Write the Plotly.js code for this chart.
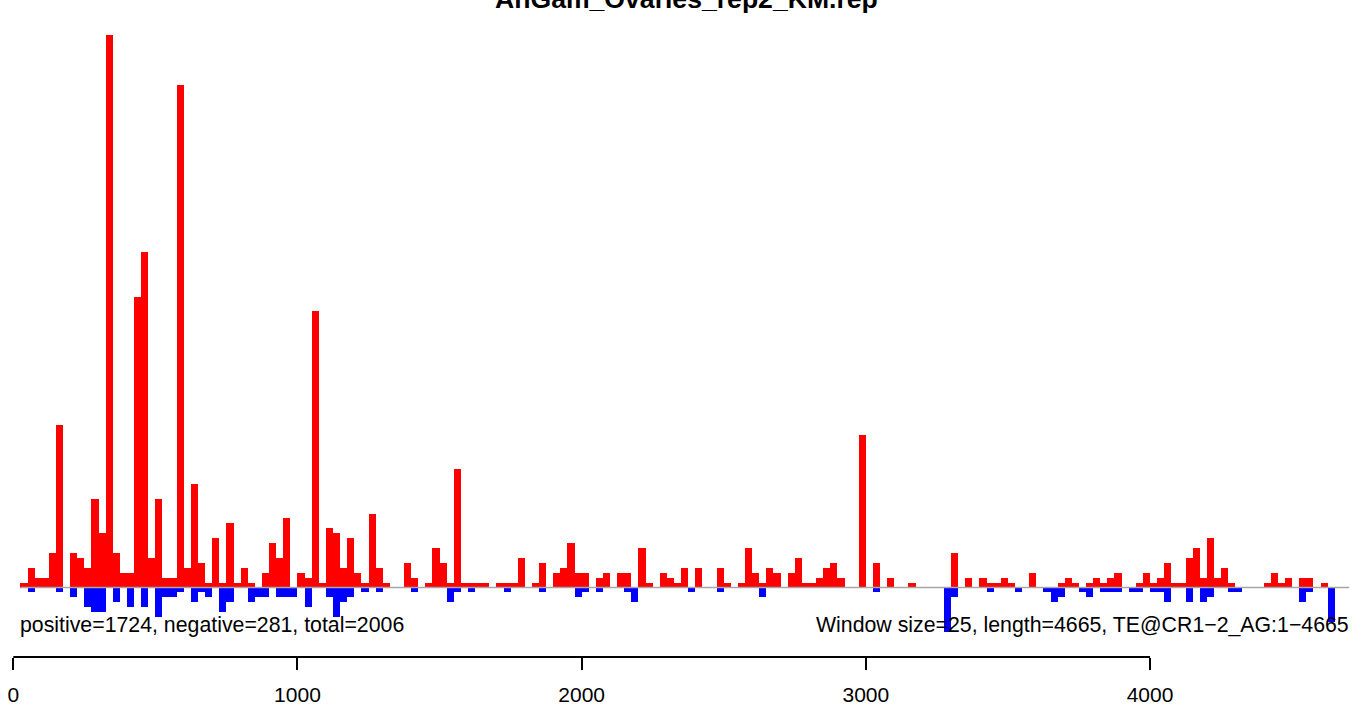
<!DOCTYPE html>
<html>
<head>
<meta charset="utf-8">
<script src="https://cdn.plot.ly/plotly-3.0.1.min.js"></script>
<style>
html,body{margin:0;padding:0;background:#ffffff;overflow:hidden}
#chart{width:1366px;height:707px}
</style>
</head>
<body>
<div id="chart"></div>
<script>
// ---------------- data ----------------
const titleText = "AnGam_Ovaries_rep2_KM.rep";
const windowSize = 25;
const seqLength = 4665;
const teName = "TE@CR1\u22122_AG";
const positiveTotal = 1724;
const negativeTotal = 281;
const grandTotal = 2006;
const tickValues = [0, 1000, 2000, 3000, 4000];
const tickLabels = ["0", "1000", "2000", "3000", "4000"];

// sense (red) counts per 25-nt window
const positiveCounts = [
  1, 4, 2, 2, 7, 33, 0, 7, 6, 4,
  18, 11, 112, 7, 3, 3, 59, 68, 6, 18,
  2, 2, 102, 4, 21, 5, 1, 10, 1, 13,
  1, 4, 1, 0, 3, 9, 6, 14, 0, 3,
  2, 56, 1, 12, 11, 4, 10, 3, 1, 15,
  4, 1, 0, 0, 5, 2, 0, 1, 8, 5,
  1, 24, 1, 1, 1, 1, 0, 1, 1, 1,
  6, 0, 1, 5, 0, 3, 4, 9, 3, 3,
  0, 2, 3, 0, 3, 3, 0, 8, 1, 0,
  3, 2, 1, 4, 0, 4, 0, 0, 4, 1,
  0, 1, 8, 3, 1, 4, 3, 0, 3, 6,
  1, 1, 2, 4, 5, 2, 0, 0, 31, 0,
  5, 0, 2, 0, 0, 1, 0, 0, 0, 0,
  0, 7, 0, 2, 0, 2, 1, 1, 2, 1,
  0, 0, 3, 0, 0, 0, 1, 2, 1, 0,
  1, 2, 1, 2, 3, 0, 0, 1, 3, 1,
  2, 5, 1, 1, 6, 8, 2, 10, 2, 4,
  1, 0, 0, 0, 0, 1, 3, 1, 2, 0,
  2, 2, 0, 1, 0
];

// antisense (blue) counts per 25-nt window
const negativeCounts = [
  0, 1, 0, 0, 0, 1, 0, 2, 0, 4,
  5, 5, 0, 3, 0, 4, 0, 4, 0, 6,
  2, 2, 1, 0, 3, 1, 2, 0, 5, 3,
  0, 0, 3, 2, 2, 0, 2, 2, 2, 0,
  4, 0, 0, 2, 6, 3, 2, 0, 1, 0,
  1, 0, 0, 0, 0, 1, 0, 0, 0, 0,
  3, 1, 0, 1, 0, 0, 0, 0, 1, 0,
  0, 0, 0, 1, 0, 0, 0, 0, 2, 1,
  0, 1, 0, 0, 0, 1, 3, 0, 0, 0,
  0, 0, 0, 0, 1, 0, 0, 0, 1, 0,
  0, 0, 0, 0, 2, 0, 0, 0, 0, 0,
  0, 0, 0, 0, 0, 0, 0, 0, 0, 0,
  1, 0, 0, 0, 0, 0, 0, 0, 0, 0,
  9, 2, 0, 0, 0, 0, 1, 0, 0, 0,
  1, 0, 0, 0, 1, 3, 2, 0, 0, 1,
  2, 0, 1, 1, 1, 0, 1, 1, 0, 1,
  1, 3, 0, 0, 3, 0, 3, 2, 0, 0,
  1, 1, 0, 0, 0, 0, 0, 0, 0, 0,
  3, 1, 0, 0, 7
];

// ---------------- build ----------------
const binCenters = positiveCounts.map((_, i) => (i + 1) * windowSize + windowSize / 2);
const negValues = negativeCounts.map(v => -v);

const W = 1366, H = 707;
const marginB = 50;
const plotH = H - marginB;
const pxPerUnit = (1150 - 13.3) / 4000;
const xMin = -13.3 / pxPerUnit;
const xMax = (W - 13.3) / pxPerUnit;
const basePx = 587.5, yUnitPx = 4.93;
const yRange = [(basePx - plotH) / yUnitPx, basePx / yUnitPx];

const FONT = '"Liberation Sans", Arial, Helvetica, sans-serif';
const TXT = 21.3;

const traces = [
  {
    type: 'bar', x: binCenters, y: positiveCounts, width: windowSize,
    marker: {color: '#FF0000', line: {width: 0}}, hoverinfo: 'skip', showlegend: false
  },
  {
    type: 'bar', x: binCenters, y: negValues, width: windowSize,
    marker: {color: '#0000FF', line: {width: 0}}, hoverinfo: 'skip', showlegend: false
  }
];

const layout = {
  width: W, height: H,
  margin: {l: 0, r: 0, t: 0, b: marginB, pad: 0},
  paper_bgcolor: '#ffffff', plot_bgcolor: '#ffffff',
  barmode: 'overlay', bargap: 0,
  showlegend: false,
  xaxis: {
    range: [xMin, xMax], showgrid: false, zeroline: false, showline: false,
    tickmode: 'array', tickvals: tickValues, ticktext: tickLabels,
    ticks: 'outside', ticklen: 12, tickwidth: 2, tickcolor: '#000000',
    tickfont: {family: FONT, size: 21, color: '#000000'},
    ticklabelstandoff: 7
  },
  yaxis: {range: yRange, visible: false, showgrid: false, zeroline: false},
  shapes: [
    {type: 'line', xref: 'x', yref: 'y', x0: windowSize, x1: 4701, y0: 0, y1: 0,
     line: {color: '#A6A6A6', width: 1.6}, layer: 'above'},
    {type: 'line', xref: 'x', yref: 'paper', x0: tickValues[0], x1: tickValues[tickValues.length - 1], y0: 0, y1: 0,
     line: {color: '#000000', width: 2}, layer: 'above'}
  ],
  annotations: [
    {text: '<b>' + titleText + '</b>', xref: 'paper', yref: 'paper',
     x: 686 / W, y: 1 - 16 / plotH, xanchor: 'center', yanchor: 'bottom', showarrow: false,
     font: {family: FONT, size: 26.6, color: '#000000'}},
    {text: 'positive=' + positiveTotal + ', negative=' + negativeTotal + ', total=' + grandTotal,
     xref: 'paper', yref: 'paper', x: 17.6 / W, y: (plotH - 625) / plotH,
     xanchor: 'left', yanchor: 'middle', showarrow: false,
     font: {family: FONT, size: TXT, color: '#000000'}},
    {text: 'Window size=' + windowSize + ', length=' + seqLength + ', ' + teName + ':1\u2212' + seqLength,
     xref: 'paper', yref: 'paper', x: 1350.5 / W, y: (plotH - 625) / plotH,
     xanchor: 'right', yanchor: 'middle', showarrow: false,
     font: {family: FONT, size: TXT, color: '#000000'}}
  ]
};

Plotly.newPlot('chart', traces, layout, {displayModeBar: false, staticPlot: true});
</script>
</body>
</html>
